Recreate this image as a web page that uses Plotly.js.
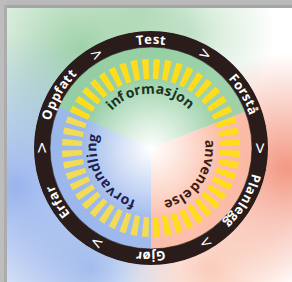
<!DOCTYPE html>
<html><head><meta charset="utf-8">
<script src="https://cdn.plot.ly/plotly-3.0.1.min.js"></script>
<style>html,body{margin:0;padding:0;background:#fff;overflow:hidden}#c{width:292px;height:282px}</style>
</head><body><div id="c"></div>
<script>
// ---- content ----
const stages = ["Test","Forstå","Planlegg","Gjør","Erfar","Oppfatt"];
const stageAngles = [90,30,-30,-90,-150,150];
const arrowAngles = [60,0,-60,-120,180,120];
const modes = ["informasjon","anvendelse","forvandling"];
const modeAngles = [91,-34,210];
const modeColors = ["#1b3220","#3a1c14","#1c2050"];
const sectorCenters = [88.5,-34.5,213];
const sectorWidths = [135,111,114];
const sectorColors = ["rgba(145,205,160,0.85)","rgba(250,185,162,0.85)","rgba(150,180,235,0.85)"];
const dashCount = 48;
// background colour washes (decoration)
const blobX = [-70,40,-135,-60,135,60,-10];
const blobY = [100,115,-40,-120,-20,-120,140];
const blobSize = [270,170,310,180,230,180,120];
const blobColor = ["rgba(118,190,132,1)","rgba(140,200,150,0.65)","rgba(108,148,228,1)","rgba(120,158,228,0.85)","rgba(238,108,78,1)","rgba(246,162,130,0.8)","rgba(140,200,150,0.5)"];

const R_OUT = 117, R_IN = 101, Y_IN = 69, Y_LEN = 20, TXT_OUT = 109, TXT_IN = 60;

const dashTheta = [], dashColor = [];
for (let i = 0; i < dashCount; i++) {
  const t = 93.75 + i * 360 / dashCount;
  dashTheta.push(t);
  const a = ((t % 360) + 360) % 360;
  dashColor.push(a > 156 && a < 270 ? "#F3DC55" : "#FFDC1C");
}

const transp = c => c.replace(/[\d.]+\)$/, "0)");

const traces = [
  {type:"scatter", x:blobX, y:blobY, mode:"markers", hoverinfo:"skip",
   marker:{size:blobSize, color:blobColor.map(transp), line:{width:0},
           gradient:{type:"radial", color:blobColor}}},
  {type:"barpolar", theta:sectorCenters, width:sectorWidths, r:sectorCenters.map(()=>R_IN), base:0,
   marker:{color:sectorColors, line:{width:0}}, hoverinfo:"skip"},
  {type:"barpolar", theta:dashTheta, width:4.3, r:dashTheta.map(()=>Y_LEN), base:Y_IN,
   marker:{color:dashColor, line:{width:0}}, hoverinfo:"skip"},
  {type:"barpolar", theta:stageAngles, width:60, r:stageAngles.map(()=>R_OUT-R_IN), base:R_IN,
   marker:{color:"#2a1c1a", line:{color:"#2a1c1a", width:0.6}}, hoverinfo:"skip"},
  {type:"scatterpolar", r:[0], theta:[0], mode:"markers", hoverinfo:"skip",
   marker:{size:140, color:"rgba(255,255,255,0)", line:{width:0},
           gradient:{type:"radial", color:"rgba(255,255,255,1)"}}}
];

// ---- curved text via per-letter annotations ----
const ctx = document.createElement("canvas").getContext("2d");
const annotations = [];
function arcText(word, thetaC, r, family, size, color, spacing, weight) {
  ctx.font = `${weight} ${size}px "${family}"`;
  const chars = [...word];
  const ws = chars.map(ch => ctx.measureText(ch).width + spacing);
  const total = ws.reduce((a,b)=>a+b,0);
  let s = 0;
  chars.forEach((ch,i) => {
    const mid = s + ws[i]/2; s += ws[i];
    const th = thetaC + (total/2 - mid) / r * 180 / Math.PI;
    const t = th * Math.PI / 180;
    annotations.push({x:r*Math.cos(t), y:r*Math.sin(t), xref:"x", yref:"y", text:ch,
      textangle:90-th, showarrow:false, xanchor:"center", yanchor:"middle", borderpad:0,
      font:{family:family, size:size, color:color, weight:weight}});
  });
}
stages.forEach((w,i)=>arcText(w, stageAngles[i], TXT_OUT, "Open Sans", 13, "#ffffff", 0.9, "bold"));
modes.forEach((w,i)=>arcText(w, modeAngles[i], TXT_IN, "Open Sans", 14, modeColors[i], 1.0, "bold"));
arrowAngles.forEach(a => {
  const t = a*Math.PI/180;
  annotations.push({x:TXT_OUT*Math.cos(t), y:TXT_OUT*Math.sin(t), xref:"x", yref:"y", text:">",
    textangle:90-a, showarrow:false, xanchor:"center", yanchor:"middle", borderpad:0,
    font:{family:"DejaVu Sans", size:15, color:"#ffffff"}});
});

const W = 292, H = 282, CX = 151, CY = 148;
const layout = {
  width:W, height:H, margin:{l:0,r:0,t:0,b:0}, showlegend:false, hovermode:false,
  paper_bgcolor:"#ffffff", plot_bgcolor:"#ffffff",
  xaxis:{range:[-CX, W-CX], visible:false, fixedrange:true},
  yaxis:{range:[-(H-CY), CY], visible:false, fixedrange:true},
  polar:{
    domain:{x:[(CX-R_OUT)/W, (CX+R_OUT)/W], y:[(H-CY-R_OUT)/H, (H-CY+R_OUT)/H]},
    bgcolor:"rgba(0,0,0,0)", hole:0,
    radialaxis:{range:[0,R_OUT], visible:false, showgrid:false},
    angularaxis:{visible:false, showgrid:false, rotation:0, direction:"counterclockwise"}
  },
  annotations:annotations,
  shapes:[
    {type:"rect", xref:"paper", yref:"paper", x0:0, x1:1, y0:1-8/H, y1:1, fillcolor:"#b9b9b9", line:{width:0}, layer:"above"},
    {type:"rect", xref:"paper", yref:"paper", x0:0, x1:1, y0:1-8/H, y1:1-5/H, fillcolor:"#a4a4a4", line:{width:0}, layer:"above"},
    {type:"rect", xref:"paper", yref:"paper", x0:0, x1:7/W, y0:0, y1:1, fillcolor:"#bdbdbd", line:{width:0}, layer:"above"},
    {type:"rect", xref:"paper", yref:"paper", x0:4/W, x1:7/W, y0:0, y1:1-5/H, fillcolor:"#acacac", line:{width:0}, layer:"above"}
  ]
};
Plotly.newPlot("c", traces, layout, {staticPlot:true, displayModeBar:false});
</script></body></html>
